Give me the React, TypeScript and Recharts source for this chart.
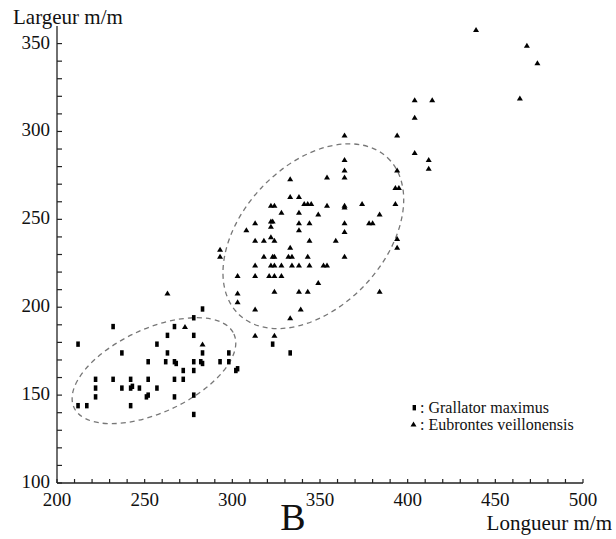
import { ScatterChart, Scatter, XAxis, YAxis, ReferenceDot } from "recharts";

// Grallator maximus (carrés) : [longueur, largeur] en m/m
const grallator: [number, number][] = [
  [212, 179], [232, 189], [283, 199], [267, 189], [278, 194], [263, 184],
  [278, 184], [237, 174], [257, 179], [263, 174], [283, 174], [298, 174],
  [252, 169], [262, 169], [267, 169], [268, 168], [278, 169], [282, 169],
  [283, 168], [293, 169], [298, 169], [302, 164], [303, 165], [272, 164],
  [278, 164], [222, 159], [232, 159], [242, 159], [252, 159], [267, 159],
  [272, 159], [222, 154], [237, 154], [242, 154], [243, 155], [247, 154],
  [257, 154], [222, 149], [251, 149], [252, 150], [267, 149], [278, 150],
  [212, 144], [217, 144], [242, 144], [278, 139], [323, 179], [333, 174],
];

// Eubrontes veillonensis (triangles)
const eubrontes: [number, number][] = [
  [263, 208], [273, 189], [283, 179], [303, 208], [303, 203],
  [364, 298], [394, 298], [404, 288], [364, 284], [364, 278], [394, 278],
  [333, 273], [354, 274], [364, 274], [393, 268], [395, 268], [333, 263],
  [338, 263], [322, 258], [324, 258], [341, 259], [343, 259], [345, 259],
  [354, 258], [364, 258], [364, 257], [374, 259], [393, 259], [328, 254],
  [338, 254], [349, 253], [384, 253], [313, 248], [322, 249], [323, 249],
  [322, 246], [338, 248], [344, 248], [364, 248], [378, 248], [380, 248],
  [308, 244], [338, 244], [364, 243], [313, 238], [318, 238], [322, 240],
  [324, 238], [344, 238], [359, 238], [394, 239], [394, 234], [293, 233],
  [293, 229], [333, 234], [318, 229], [323, 229], [324, 229], [332, 229],
  [334, 229], [343, 229], [364, 229], [313, 224], [322, 224], [324, 224],
  [328, 224], [334, 224], [338, 224], [344, 224], [352, 224], [354, 224],
  [303, 218], [313, 218], [321, 218], [324, 218], [328, 218], [349, 214],
  [324, 209], [338, 209], [343, 209], [384, 209], [313, 199], [339, 199],
  [333, 194], [313, 184], [324, 184],
  [439, 358], [468, 349], [474, 339], [464, 319], [404, 318], [414, 318],
  [404, 308], [412, 284], [412, 279],
];

const xMajor = [200, 250, 300, 350, 400, 450, 500];
const yMajor = [100, 150, 200, 250, 300, 350];

// ellipses en pointillés : centre (données), demi-axes et rotation (px)
const ellipses = [
  { x: 255.3, y: 163.9, rx: 88, ry: 42, angle: -24.7 },
  { x: 346.2, y: 240.4, rx: 108, ry: 71, angle: -46.6 },
];

const FONT = '"Liberation Serif", "Times New Roman", serif';
const INK = "#222";

const xTicks: number[] = [];
for (let v = 200; v <= 500; v += 10) xTicks.push(v);
const yTicks: number[] = [];
for (let v = 100; v <= 350; v += 10) yTicks.push(v);

const toPoints = (arr: [number, number][]) => arr.map(([x, y]) => ({ x, y }));

const XTick = (props: any) => {
  const { x, y, payload } = props;
  const v = payload.value;
  return (
    <g>
      <line x1={x} x2={x} y1={y} y2={y - 4} stroke={INK} strokeWidth={1.2} />
      {xMajor.includes(v) && (
        <text x={x} y={y + 23} textAnchor="middle" fontFamily={FONT} fontSize={19} fill="#111">
          {v}
        </text>
      )}
    </g>
  );
};

const YTick = (props: any) => {
  const { x, y, payload } = props;
  const v = payload.value;
  return (
    <g>
      <line x1={x} x2={x + 5} y1={y} y2={y} stroke={INK} strokeWidth={1.2} />
      {yMajor.includes(v) && (
        <text x={x - 7} y={y + 5} textAnchor="end" fontFamily={FONT} fontSize={19} fill="#111">
          {v}
        </text>
      )}
    </g>
  );
};

const SquareMark = (props: any) => {
  const { cx, cy } = props;
  return <rect x={cx - 1.8} y={cy - 2.7} width={3.6} height={5.4} fill="#000" />;
};

const TriangleMark = (props: any) => {
  const { cx, cy } = props;
  return <path d={`M${cx - 3},${cy + 2.4} L${cx + 3},${cy + 2.4} L${cx},${cy - 2.6} Z`} fill="#000" />;
};

const ellipseShape = (rx: number, ry: number, angle: number) => (props: any) => {
  const { cx, cy } = props;
  return (
    <ellipse
      cx={cx}
      cy={cy}
      rx={rx}
      ry={ry}
      transform={`rotate(${angle} ${cx} ${cy})`}
      fill="none"
      stroke="#777"
      strokeWidth={1.3}
      strokeDasharray="5 4"
    />
  );
};

export default function App() {
  return (
    <div style={{ position: "absolute", left: 0, top: 0, width: 616, height: 539, background: "#fff" }}>
      <ScatterChart width={616} height={539} margin={{ top: 26, right: 33, bottom: 26, left: 0 }}>
        <XAxis
          type="number"
          dataKey="x"
          domain={[200, 500]}
          ticks={xTicks}
          interval={0}
          height={30}
          tickSize={0}
          tickMargin={0}
          tickLine={false}
          axisLine={{ stroke: INK, strokeWidth: 1.3 }}
          tick={<XTick />}
          allowDataOverflow
        />
        <YAxis
          type="number"
          dataKey="y"
          domain={[100, 360]}
          ticks={yTicks}
          interval={0}
          width={57}
          tickSize={0}
          tickMargin={0}
          tickLine={false}
          axisLine={{ stroke: INK, strokeWidth: 1.3 }}
          tick={<YTick />}
          allowDataOverflow
        />
        {ellipses.map((e, i) => (
          <ReferenceDot key={i} x={e.x} y={e.y} r={1} shape={ellipseShape(e.rx, e.ry, e.angle)} />
        ))}
        <Scatter data={toPoints(grallator)} shape={<SquareMark />} isAnimationActive={false} />
        <Scatter data={toPoints(eubrontes)} shape={<TriangleMark />} isAnimationActive={false} />
      </ScatterChart>
      <svg
        width={616}
        height={539}
        style={{ position: "absolute", left: 0, top: 0, pointerEvents: "none" }}
      >
        <text x={13} y={24} fontFamily={FONT} fontSize={21} fill="#111">
          Largeur m/m
        </text>
        <text x={612} y={530} textAnchor="end" fontFamily={FONT} fontSize={21} fill="#111">
          Longueur m/m
        </text>
        <text x={293} y={530} textAnchor="middle" fontFamily={FONT} fontSize={38} fill="#111">
          B
        </text>
        <rect x={412.6} y={405} width={3.4} height={5.4} fill="#000" />
        <text x={420} y={413} fontFamily={FONT} fontSize={16} fill="#111">
          : Grallator maximus
        </text>
        <path d="M410.5,426.5 L416.5,426.5 L413.5,421.5 Z" fill="#000" />
        <text x={420} y={430} fontFamily={FONT} fontSize={16} fill="#111">
          : Eubrontes veillonensis
        </text>
      </svg>
    </div>
  );
}
